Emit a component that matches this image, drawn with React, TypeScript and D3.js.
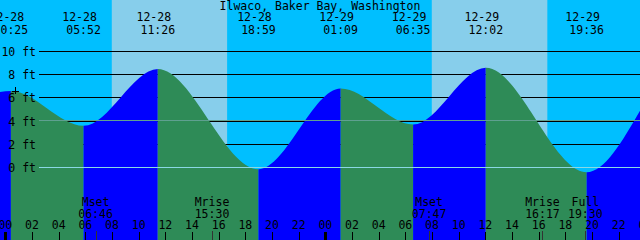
import React from "react";
import * as d3 from "d3";

const W = 640;
const H = 240;
const YEAR = 2023;
const title = "Ilwaco, Baker Bay, Washington";

// Tide extremes
const tideDates = ["12-28", "12-28", "12-28", "12-28", "12-29", "12-29", "12-29", "12-29"];
const tideTimes = ["00:25", "05:52", "11:26", "18:59", "01:09", "06:35", "12:02", "19:36"];
const tideHeights = [6.6, 3.6, 8.5, -0.15, 6.8, 3.7, 8.6, -0.4];
const tideKinds = ["H", "L", "H", "L", "H", "L", "H", "L"];

// Chart edges (levels read at the left and right borders)
const edgeStamps = ["12-27 23:36", "12-29 23:36"];
const edgeHeights = [6.5, 4.9];

// Daylight
const sunriseStamps = ["12-28 07:59", "12-29 07:59"];
const sunsetStamps = ["12-28 16:38", "12-29 16:39"];

// Moon events
const moonLabels = ["Mset", "Mrise", "Mset", "Mrise", "Full"];
const moonDates = ["12-28", "12-28", "12-29", "12-29", "12-29"];
const moonTimes = ["06:46", "15:30", "07:47", "16:17", "19:30"];

// Level axis
const levelTicks = [0, 2, 4, 6, 8, 10];
const meanLevel = 4.05;

// Current-time mark
const nowStamp = "12-28 00:44";
const nowLevel = 6.6;

const parse = d3.timeParse("%Y-%m-%d %H:%M");
const P = (s: string) => parse(`${YEAR}-${s}`) as Date;

const COLORS = {
  night: "#00bfff",
  day: "#87ceeb",
  rise: "#0000ff",
  fall: "#2e8b57",
  datum: "#8ad8e4",
  mean: "#5fa090",
  text: "#000000",
};

const FONT = "'DejaVu Sans Mono', 'Liberation Mono', monospace";
const FS = 11.5;

export default function App() {
  const start = P(edgeStamps[0]);
  const end = P(edgeStamps[1]);
  const x = d3.scaleTime().domain([start, end]).range([0, W]);
  const y = d3.scaleLinear().domain([0, 10]).range([167.5, 51.5]);

  const events = tideDates.map((d, i) => ({
    t: P(`${d} ${tideTimes[i]}`),
    h: tideHeights[i],
    kind: tideKinds[i],
    date: d,
    time: tideTimes[i],
  }));

  const curvePts = [
    { t: start, h: edgeHeights[0] },
    ...events.map((e) => ({ t: e.t, h: e.h })),
    { t: end, h: edgeHeights[1] },
  ];

  const area = d3
    .area<{ t: Date; h: number }>()
    .x((d) => x(d.t))
    .y0(H)
    .y1((d) => y(d.h))
    .curve(d3.curveMonotoneX);
  const areaPath = area(curvePts) || "";

  // water colour segments
  const bounds = [0, ...events.map((e) => x(e.t)), W];
  const segs = bounds.slice(0, -1).map((b, i) => {
    const next = events[i];
    const rising = next ? next.kind === "H" : events[events.length - 1].kind === "L";
    return { x0: b, x1: bounds[i + 1], color: rising ? COLORS.rise : COLORS.fall };
  });

  const hourTicks = d3.timeHour
    .every(2)!
    .range(d3.timeHour.offset(start, -2), d3.timeHour.offset(end, 3));

  const gridX0 = 39;
  const lineY = (v: number) => Math.floor(y(v)) + 0.5;

  const moon = moonLabels.map((l, i) => ({
    label: l,
    time: moonTimes[i],
    t: P(`${moonDates[i]} ${moonTimes[i]}`),
  }));

  const nx = x(P(nowStamp));
  const ny = y(nowLevel);

  return (
    <>
      <style>{`body{margin:0}`}</style>
      <svg width={W} height={H} style={{ display: "block" }} fontFamily={FONT} fontSize={FS}>
        <defs>
          <clipPath id="water">
            <path d={areaPath} />
          </clipPath>
        </defs>
        {/* sky */}
        <rect x={0} y={0} width={W} height={H} fill={COLORS.night} />
        {sunriseStamps.map((s, i) => {
          const a = x(P(s));
          const b = x(P(sunsetStamps[i]));
          return <rect key={s} x={a} y={0} width={b - a} height={H} fill={COLORS.day} />;
        })}
        {/* grid */}
        <g shapeRendering="crispEdges">
          {levelTicks.map((v) => (
            <line key={v} x1={gridX0} x2={W} y1={lineY(v)} y2={lineY(v)} stroke="#000" strokeWidth={1} />
          ))}
        </g>
        {/* water */}
        <g clipPath="url(#water)">
          {segs.map((s, i) => (
            <rect key={i} x={s.x0} y={0} width={s.x1 - s.x0} height={H} fill={s.color} />
          ))}
        </g>
        {/* datum and mean lines */}
        <g shapeRendering="crispEdges">
          <line x1={gridX0} x2={W} y1={lineY(0)} y2={lineY(0)} stroke={COLORS.datum} strokeWidth={1} />
          <line x1={gridX0} x2={W} y1={lineY(meanLevel)} y2={lineY(meanLevel)} stroke={COLORS.mean} strokeWidth={1} />
        </g>
        {/* title */}
        <text x={W / 2} y={9.5} textAnchor="middle" fill={COLORS.text}>
          {title}
        </text>
        {/* tide event labels */}
        {events.map((e, i) => (
          <g key={i} fill={COLORS.text} textAnchor="middle">
            <text x={x(e.t) - 4} y={21}>
              {e.date}
            </text>
            <text x={x(e.t)} y={34}>
              {e.time}
            </text>
          </g>
        ))}
        {/* level labels */}
        {levelTicks.map((v) => (
          <text key={v} x={36} y={lineY(v) + 4} textAnchor="end" fill={COLORS.text}>
            {`${v} ft`}
          </text>
        ))}
        {/* moon labels */}
        {moon.map((m, i) => (
          <g key={i} fill={COLORS.text} textAnchor="middle">
            <text x={x(m.t)} y={206}>
              {m.label}
            </text>
            <text x={x(m.t)} y={218}>
              {m.time}
            </text>
          </g>
        ))}
        {/* hour labels and ticks */}
        {hourTicks.map((t, i) => {
          const tx = x(t);
          const midnight = t.getHours() === 0;
          return (
            <g key={i}>
              <text x={tx} y={229} textAnchor="middle" fill={COLORS.text}>
                {d3.timeFormat("%H")(t)}
              </text>
              {midnight ? (
                <rect x={Math.round(tx) - 1.5} y={232} width={3} height={8} fill="#000" shapeRendering="crispEdges" />
              ) : (
                <line x1={Math.round(tx) + 0.5} x2={Math.round(tx) + 0.5} y1={232} y2={240} stroke="#000" shapeRendering="crispEdges" />
              )}
            </g>
          );
        })}
        {moon.map((m, i) => {
          const mx = Math.round(x(m.t)) + 0.5;
          return <line key={i} x1={mx} x2={mx} y1={231} y2={240} stroke="#333" strokeWidth={1} shapeRendering="crispEdges" />;
        })}
        {/* now mark */}
        <g stroke="#000" strokeWidth={1} shapeRendering="crispEdges">
          <line x1={Math.round(nx) - 3} x2={Math.round(nx) + 4} y1={Math.round(ny) + 0.5} y2={Math.round(ny) + 0.5} />
          <line x1={Math.round(nx) + 0.5} x2={Math.round(nx) + 0.5} y1={Math.round(ny) - 4} y2={Math.round(ny) + 3} />
        </g>
      </svg>
    </>
  );
}
